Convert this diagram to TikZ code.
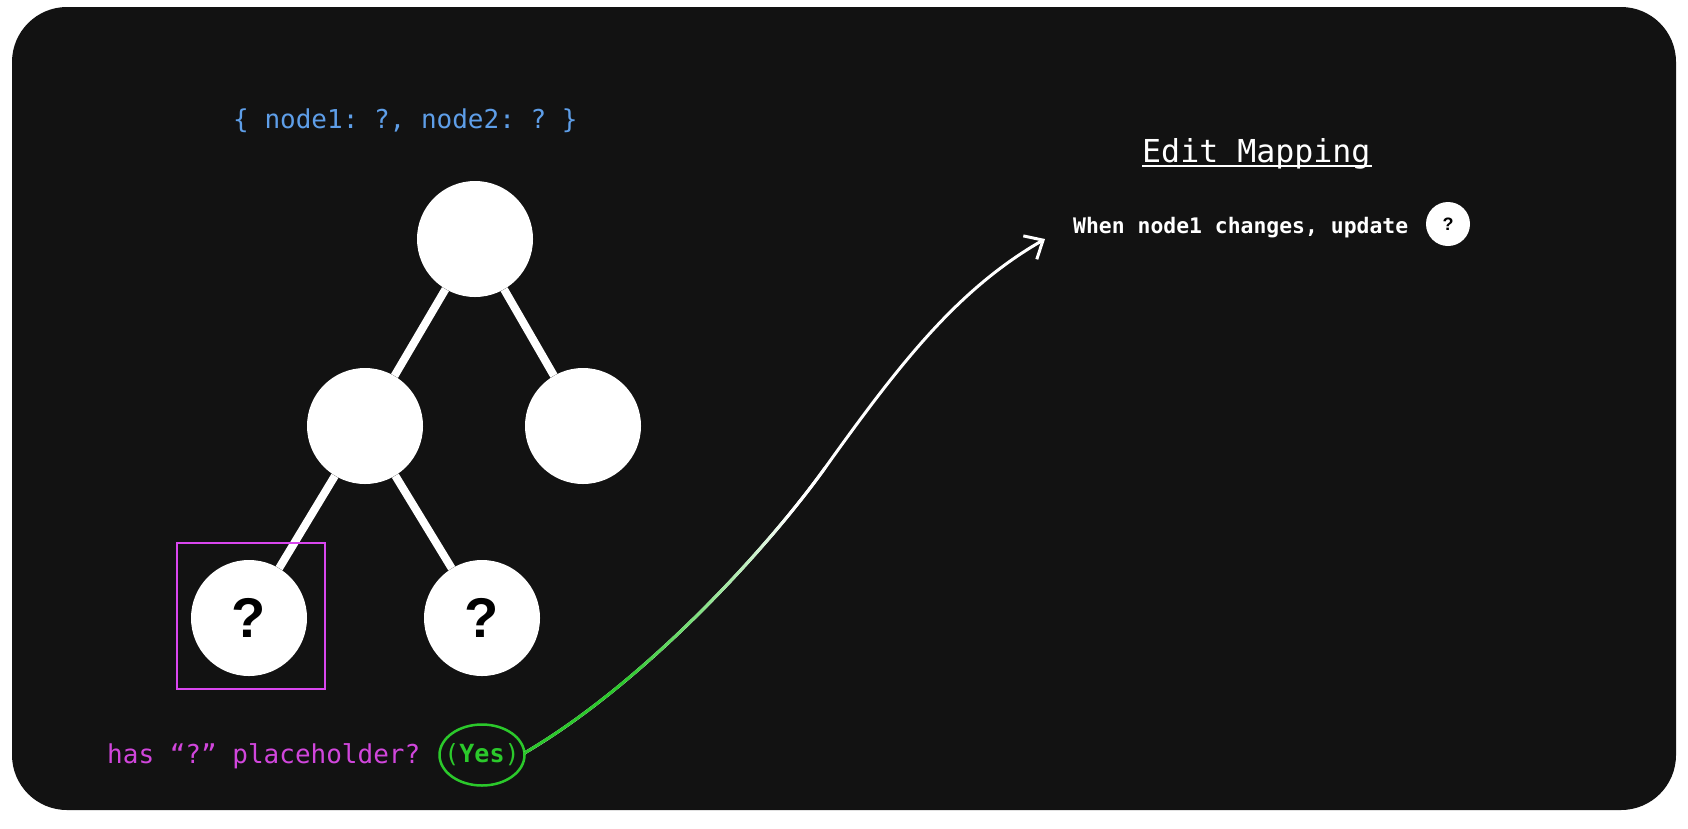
\documentclass[tikz,border=0pt]{standalone}
\usepackage{fontspec}
\setmonofont{DejaVu Sans Mono}
\newfontfamily\qfont{Liberation Sans}
\usetikzlibrary{arrows.meta,shapes.geometric}
\definecolor{bgc}{HTML}{121212}
\definecolor{blu}{HTML}{5E9EE8}
\definecolor{mag}{HTML}{D146DC}
\definecolor{magbox}{HTML}{D946EF}
\definecolor{grn}{HTML}{2BC92B}
\tikzset{
  treenode/.style={circle, fill=white, minimum size=116pt, inner sep=0pt, font=\qfont\bfseries\fontsize{56}{60}\selectfont, text=black},
  edge/.style={draw=white, line width=8pt},
  conn/.style={draw=white, line width=3pt},
}
\begin{document}
\begin{tikzpicture}[x=1pt,y=-1pt]
\useasboundingbox (0,0) rectangle (1688,828);
\fill[white] (0,0) rectangle (1688,828);
\fill[bgc, rounded corners=55pt] (12,7) rectangle (1676,810);

\node[font=\ttfamily\fontsize{26}{30}\selectfont, text=blu, anchor=base west, inner sep=0pt] (map) at (233,128) {\{ node1: ?, node2: ? \}};

\node[treenode] (root) at (475,239) {};
\node[treenode] (lm) at (365,426) {};
\node[treenode] (rm) at (583,426) {};
\node[treenode] (bl) at (249,618) {?};
\node[treenode] (br) at (482,618) {?};
\draw[edge] (root) -- (lm);
\draw[edge] (root) -- (rm);
\draw[edge] (lm) -- (bl);
\draw[edge] (lm) -- (br);

\node[draw=magbox, line width=2.5pt, minimum width=148pt, minimum height=146pt, inner sep=0pt] (box) at (251,616) {};

\node[font=\ttfamily\fontsize{26}{30}\selectfont, text=mag, anchor=base west, inner sep=0pt] (q) at (107,763) {has “?” placeholder?};
\node[inner sep=0pt, text=grn, font=\ttfamily\fontsize{25}{28}\selectfont] (yes) at (482,755) {(\textbf{Yes})};
\draw[grn, line width=2.5pt] (yes.center) ellipse [x radius=42.5, y radius=30.5];
\coordinate (ys) at (524.5,753);

\node[font=\ttfamily\fontsize{31.6}{36}\selectfont, text=white, anchor=base west, inner sep=0pt] (title) at (1142,162) {Edit Mapping};
\draw[white, line width=2pt] (title.base west) ++(0,4) -- ++(230,0);
\node[font=\ttfamily\bfseries\fontsize{21.4}{26}\selectfont, text=white, anchor=base west, inner sep=0pt] (when) at (1073,233) {When node1 changes, update};
\node[circle, fill=white, minimum size=44pt, inner sep=0pt, font=\qfont\bfseries\fontsize{18}{20}\selectfont] (qc) at (1448,224) {?};

\coordinate (c1) at (644,683);
\coordinate (c2) at (767,549);
\coordinate (mid) at (825,468);
\coordinate (c3) at (900,363);
\coordinate (c4) at (958,289);
\coordinate (tip) at (1045,239);
\draw[conn, -{Straight Barb[length=15pt, width=27pt]}] (ys) .. controls (c1) and (c2) .. (mid) .. controls (c3) and (c4) .. (tip);
% green-to-white gradient overlay along the first part of the connector
\foreach \i in {1,...,50}{
  \pgfmathsetmacro\ta{(\i-1)/50}
  \pgfmathsetmacro\tb{\i/50}
  \pgfmathsetmacro\xa{(1-\ta)^3*524.5+3*(1-\ta)^2*\ta*644+3*(1-\ta)*\ta^2*767+\ta^3*825}
  \pgfmathsetmacro\ya{(1-\ta)^3*753+3*(1-\ta)^2*\ta*683+3*(1-\ta)*\ta^2*549+\ta^3*468}
  \pgfmathsetmacro\xb{(1-\tb)^3*524.5+3*(1-\tb)^2*\tb*644+3*(1-\tb)*\tb^2*767+\tb^3*825}
  \pgfmathsetmacro\yb{(1-\tb)^3*753+3*(1-\tb)^2*\tb*683+3*(1-\tb)*\tb^2*549+\tb^3*468}
  \pgfmathsetmacro\pc{max(0,min(100,100*(0.82-\ta)/0.55))}
  \draw[line width=3pt, line cap=round, draw=grn!\pc!white] (\xa,\ya) -- (\xb,\yb);
}
\end{tikzpicture}
\end{document}
